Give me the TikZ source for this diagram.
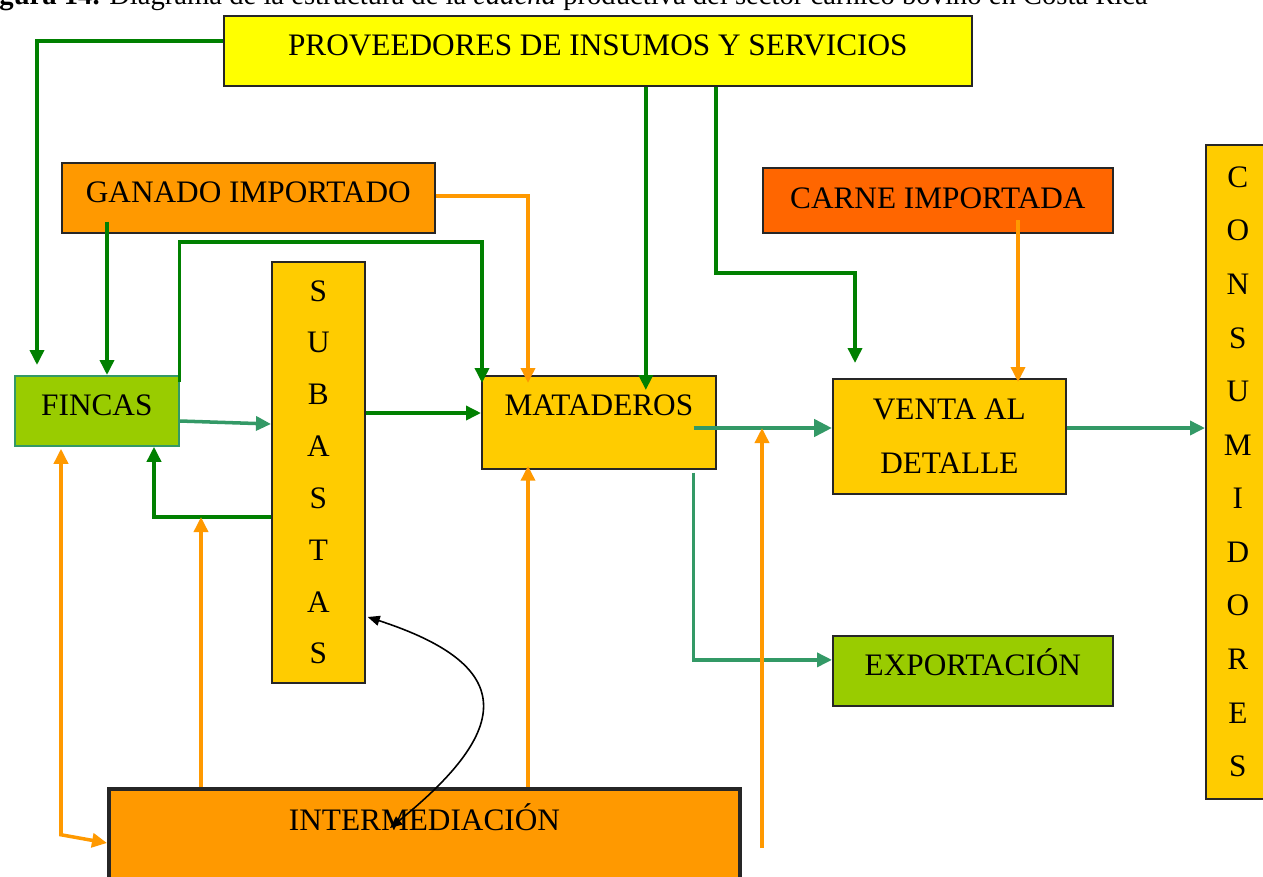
\documentclass[tikz,border=0pt]{standalone}
\usepackage{fontspec}
\setmainfont{Liberation Serif}
\usepackage[]{xcolor}
\usetikzlibrary{arrows.meta}

\definecolor{amarillo}{HTML}{FFFF00}
\definecolor{naranja}{HTML}{FF9900}
\definecolor{rojizo}{HTML}{FF6600}
\definecolor{oro}{HTML}{FFCC00}
\definecolor{lima}{HTML}{99CC00}
\definecolor{verde}{HTML}{008000}
\definecolor{verdemar}{HTML}{339966}

\begin{document}
\begin{tikzpicture}
		[x=0.02cm,y=-0.02cm,
		 caja/.style={draw=black!85, line width=1pt, inner sep=0pt, anchor=north west,
		 	font=\fontsize{17.8}{20}\selectfont},
		 columna/.style={caja, align=center},
		 punta/.style={-{Triangle[length=0.3cm,width=0.28cm]}},
		 fverde/.style={punta, draw=verde, line width=2pt},
		 fmar/.style={punta, draw=verdemar, line width=2pt},
		 fnaranja/.style={punta, draw=naranja, line width=2pt}]
			\useasboundingbox (0,0) rectangle (1263,876);
			\node [anchor=base east, font=\fontsize{16.3}{18}\selectfont] (titulo) at (1154,4)
				{\textbf{Figura 14.} Diagrama de la estructura de la \textit{cadena} productiva del sector cárnico bovino en Costa Rica};
			\node [caja, fill=amarillo, minimum width=14.96cm, text height=0.8cm, text depth=0.6cm] (prov) at (223,15)
				{PROVEEDORES DE INSUMOS Y SERVICIOS};
			\node [caja, fill=naranja, minimum width=7.46cm, text height=0.8cm, text depth=0.6cm] (gan) at (61,162)
				{GANADO IMPORTADO};
			\node [caja, fill=rojizo, minimum width=7cm, text height=0.82cm, text depth=0.48cm] (car) at (762,167)
				{CARNE IMPORTADA};
			\node [caja, draw=verdemar, fill=lima, minimum width=3.28cm, text height=0.8cm, text depth=0.6cm] (fin) at (14,375)
				{FINCAS};
			\node [caja, fill=oro, minimum width=4.68cm, text height=0.8cm, text depth=1.06cm] (mat) at (481,375)
				{MATADEROS};
			\node [caja, fill=lima, minimum width=5.6cm, text height=0.8cm, text depth=0.6cm] (exp) at (832,635)
				{EXPORTACIÓN};
			\node [caja, fill=naranja, line width=2.3pt, minimum width=12.62cm, text height=0.82cm, text depth=1.6cm] (int) at (107,787)
				{INTERMEDIACIÓN};
			\node [columna, fill=oro, minimum width=4.66cm, minimum height=2.3cm,
				font=\fontsize{17.8}{30.6}\selectfont] (ven) at (832,378)
				{VENTA AL\\DETALLE};
			\node [columna, fill=oro, minimum width=1.86cm, minimum height=8.42cm,
				font=\fontsize{17.8}{29.5}\selectfont] (sub) at (271,261)
				{S\\U\\B\\A\\S\\T\\A\\S};
			\node [columna, fill=oro, minimum width=1.28cm, minimum height=13.08cm,
				font=\fontsize{17.8}{30.5}\selectfont] (cons) at (1205,144)
				{C\\O\\N\\S\\U\\M\\I\\D\\O\\R\\E\\S};

			\draw [fverde] ([shift={(0,-10)}]prov.west) -| ([shift={(23,-10)}]fin.north west);
			\draw [fverde] ([shift={(46,-12)}]gan.south west) coordinate (g1) -- (g1 |- fin.north);
			\draw [fverde] ([shift={(0,7)}]fin.north east) -- ++(0,-140) -| ([shift={(1,8)}]mat.north west);
			\draw [fverde] ([shift={(48,0)}]prov.south) coordinate (p1) -- (p1 |- mat.north) -- ++(0,15);
			\draw [fverde] ([shift={(118,0)}]prov.south) -- ++(0,186) -| ([shift={(23,-15)}]ven.north west);
			\draw [fverde] ([shift={(0,152)}]sub.north east) coordinate (s1) -- (s1 -| mat.west);
			\draw [fverde] ([shift={(0,256)}]sub.north west) coordinate (s2) -| ([shift={(140,0)}]fin.south west);

			\draw [fmar] ([shift={(0,46)}]fin.north east) -- ([shift={(0,163)}]sub.north west);
			\draw [fmar, line width=2.8pt, -{Triangle[length=0.36cm,width=0.34cm]}]
				([shift={(-23,53)}]mat.north east) coordinate (m1) -- (m1 -| ven.west);
			\draw [fmar] ([shift={(-23,3)}]mat.south east) |- ([shift={(0,-11)}]exp.west);
			\draw [fmar] ([shift={(0,50)}]ven.north east) coordinate (v1) -- (v1 -| cons.west);

			\draw [fnaranja] ([shift={(0,34)}]gan.north east) -| ([shift={(47,8)}]mat.north west);
			\draw [fnaranja] ([shift={(256,53)}]car.north west) coordinate (c1) -- (c1 |- ven.north) -- ++(0,4);
			\draw [fnaranja] ([shift={(421,0)}]int.north west) coordinate (i1) -- (i1 |- mat.south) -- ++(0,-4);
			\coordinate (pie) at (762,848);
			\draw [fnaranja] (pie) -- (pie |- m1);
			\draw [fnaranja] ([shift={(94,0)}]int.north west) coordinate (i2) -- (i2 |- s2);
			\draw [fnaranja, {Triangle[length=0.3cm,width=0.28cm]}-{Triangle[length=0.3cm,width=0.28cm]}]
				([shift={(47,2)}]fin.south west) -- ++(0,386) -- ([shift={(0,56)}]int.north west);

			\draw [line width=0.9pt, {Triangle[length=0.24cm,width=0.2cm]}-{Triangle[length=0.24cm,width=0.2cm]}]
				([shift={(2,356)}]sub.north east) to[out=-18, in=39, looseness=1.9] ([shift={(283,41)}]int.north west);
	\end{tikzpicture}
\end{document}
